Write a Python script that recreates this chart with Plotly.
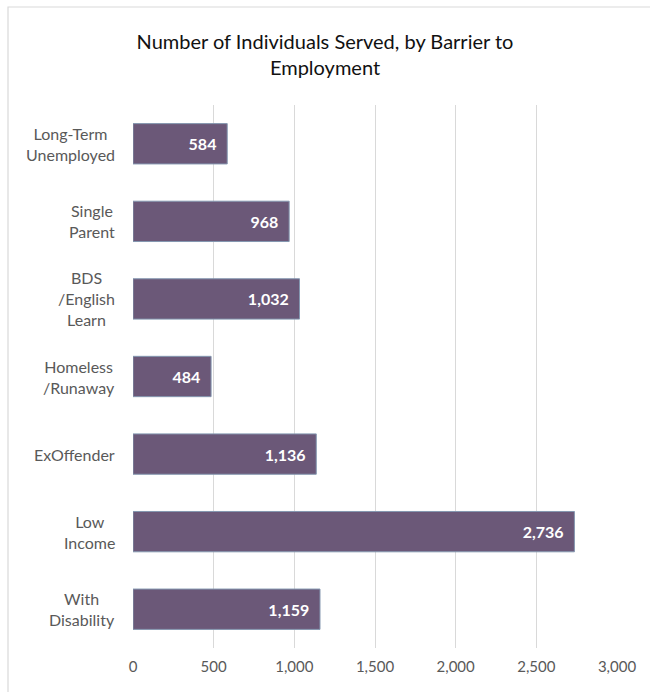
import plotly.graph_objects as go

# Barrier categories (top to bottom) and counts of individuals served
categories = ["Long-Term<br>Unemployed", "Single<br>Parent", "BDS<br>/English<br>Learn",
              "Homeless<br>/Runaway", "ExOffender", "Low<br>Income", "With<br>Disability"]
served = [584, 968, 1032, 484, 1136, 2736, 1159]
x_ticks = [0, 500, 1000, 1500, 2000, 2500, 3000]
x_tick_labels = ["0", "500", "1,000", "1,500", "2,000", "2,500", "3,000"]

W, H = 650, 692
ml, mr, mt, mb = 133, 33, 105, 44
pw, ph = W - ml - mr, H - mt - mb

fig = go.Figure(go.Bar(
    y=categories,
    x=served,
    orientation="h",
    width=0.52,
    marker=dict(color="#6B5878", line=dict(color="#8497B0", width=1)),
    text=[f"{v:,}\u00a0\u00a0" for v in served],
    textposition="inside",
    insidetextanchor="end",
    textfont=dict(family="Lato", size=16, color="white", weight="bold"),
    cliponaxis=False,
))

# category labels, each line centred within its block
for cat in categories:
    fig.add_annotation(x=0, y=cat, xref="x", yref="y", text=cat, showarrow=False,
                       xanchor="right", yanchor="middle", align="center", xshift=-16,
                       font=dict(family="Lato", size=16, color="#595959"))

# light frame around the chart area
fig.add_shape(type="rect", xref="paper", yref="paper",
              x0=(8 - ml) / pw, x1=1.3,
              y0=-0.3, y1=1 + (mt - 7) / ph,
              line=dict(color="#D9D9D9", width=1.2), fillcolor="rgba(0,0,0,0)", layer="below")

fig.update_layout(
    width=W, height=H,
    margin=dict(l=ml, r=mr, t=mt, b=mb),
    paper_bgcolor="white", plot_bgcolor="white",
    font=dict(family="Lato", color="#595959"),
    title=dict(text="Number of Individuals Served, by Barrier to<br>Employment",
               x=0.5, xanchor="center", xref="container",
               y=1 - 49 / H, yanchor="middle", yref="container",
               font=dict(family="Lato", size=20, color="#111111")),
    showlegend=False,
    bargap=0.48,
)
fig.update_xaxes(range=[0, 3000], tickvals=x_ticks, ticktext=x_tick_labels,
                 showgrid=True, gridcolor="#D9D9D9", gridwidth=1,
                 zeroline=False, showline=False, ticks="",
                 tickfont=dict(size=15, color="#595959"), ticklabelstandoff=8)
fig.update_yaxes(autorange="reversed", showgrid=False, zeroline=False, showline=False,
                 ticks="", showticklabels=False)

fig.write_html("out.html")
